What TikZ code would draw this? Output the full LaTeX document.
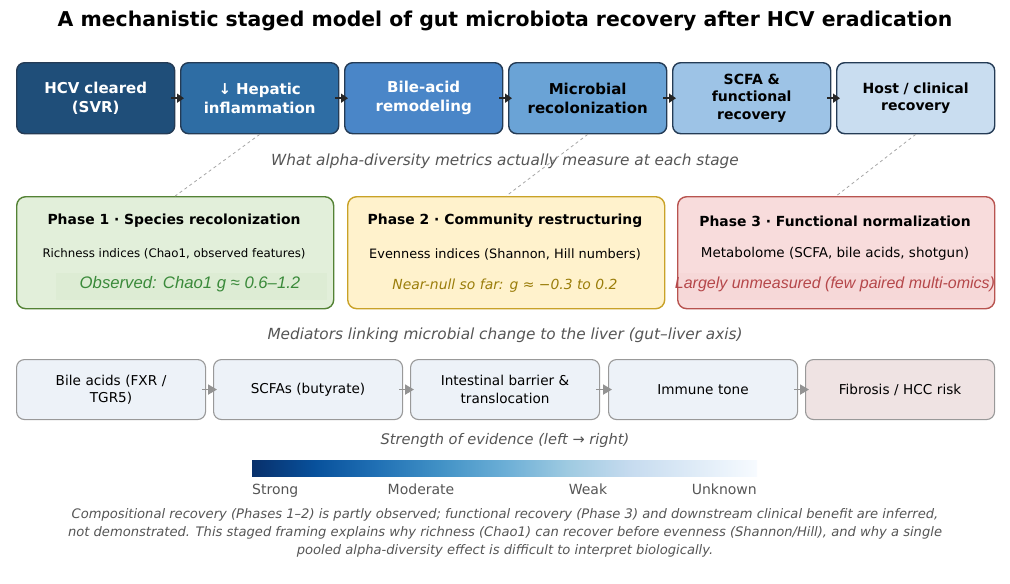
\documentclass[tikz,border=0pt]{standalone}
\usepackage{fontspec}
\setmainfont{DejaVu Sans}
\newfontfamily\arialfont{Liberation Sans}
\usetikzlibrary{arrows.meta}
\definecolor{cA}{HTML}{1F4E79}
\definecolor{cB}{HTML}{2E6DA4}
\definecolor{cC}{HTML}{4A86C8}
\definecolor{cD}{HTML}{6AA3D6}
\definecolor{cE}{HTML}{9DC3E6}
\definecolor{cF}{HTML}{C9DDF0}
\definecolor{edgeDark}{HTML}{243B55}
\definecolor{subgray}{HTML}{555555}
\definecolor{gFill}{HTML}{E2EFDA}
\definecolor{gEdge}{HTML}{548235}
\definecolor{gText}{HTML}{3A8A3A}
\definecolor{gInner}{HTML}{DDECD4}
\definecolor{yFill}{HTML}{FFF2CC}
\definecolor{yEdge}{HTML}{C9A227}
\definecolor{yText}{HTML}{9A7D0A}
\definecolor{rFill}{HTML}{F8DCDC}
\definecolor{rEdge}{HTML}{B85450}
\definecolor{rText}{HTML}{B5474A}
\definecolor{rInner}{HTML}{F6D8D8}
\definecolor{mFill}{HTML}{EDF2F8}
\definecolor{mFillR}{HTML}{EFE3E3}
\definecolor{mEdge}{HTML}{999999}
\definecolor{b0}{HTML}{08306B}
\definecolor{b1}{HTML}{08519C}
\definecolor{b2}{HTML}{2171B5}
\definecolor{b3}{HTML}{4292C6}
\definecolor{b4}{HTML}{6BAED6}
\definecolor{b5}{HTML}{9ECAE1}
\definecolor{b6}{HTML}{C6DBEF}
\definecolor{b7}{HTML}{DEEBF7}
\definecolor{b8}{HTML}{F7FBFF}
\tikzset{
  stagebox/.style={draw=edgeDark, line width=1.4pt, rounded corners=8pt,
    minimum width=158pt, minimum height=71pt, text width=154pt, align=center,
    font=\fontsize{15}{19}\selectfont\bfseries, anchor=north west, inner sep=0pt},
  phasebox/.style={line width=1.4pt, rounded corners=9pt,
    minimum width=317pt, minimum height=112pt, anchor=north west, inner sep=0pt},
  medbox/.style={draw=mEdge, line width=1.1pt, rounded corners=8pt, fill=mFill,
    minimum width=189pt, minimum height=60pt, text width=184pt, align=center,
    font=\fontsize{13.6}{17.5}\selectfont, anchor=north west, inner sep=0pt},
  stagearrow/.style={line width=1.5pt, draw=black!85, -{Triangle[length=7pt,width=9pt]}, shorten <=-4pt, shorten >=-4pt},
  medarrow/.style={line width=1.8pt, draw=gray!85, -{Triangle[length=9pt,width=10pt]}, shorten <=-4pt, shorten >=-4pt},
  linkline/.style={draw=gray!70, dashed, line width=0.8pt},
  subtitle/.style={text=subgray, font=\fontsize{15.3}{18}\selectfont\itshape},
  barlabel/.style={text=subgray, font=\fontsize{14}{16}\selectfont, inner sep=0pt},
}
\begin{document}
\begin{tikzpicture}[x=1pt,y=-1pt]
\useasboundingbox (0,0) rectangle (1010,584);
\node[font=\fontsize{20.4}{24}\selectfont\bfseries] (title) at (505,21) {A mechanistic staged model of gut microbiota recovery after HCV eradication};

% stage boxes
\node[stagebox, fill=cA, text=white] (s1) at (16,62) {HCV cleared\\(SVR)};
\node[stagebox, fill=cB, text=white] (s2) at (180,62) {↓ Hepatic\\inflammation};
\node[stagebox, fill=cC, text=white] (s3) at (344,62) {Bile-acid\\remodeling};
\node[stagebox, fill=cD, text=black] (s4) at (508,62) {Microbial\\recolonization};
\node[stagebox, fill=cE, text=black, font=\fontsize{14}{17.5}\selectfont\bfseries] (s5) at (672,62) {SCFA \&\\functional\\recovery};
\node[stagebox, fill=cF, text=black, font=\fontsize{14}{17.5}\selectfont\bfseries] (s6) at (836,62) {Host / clinical\\recovery};
\draw[stagearrow] (s1.east) -- (s2.west);
\draw[stagearrow] (s2.east) -- (s3.west);
\draw[stagearrow] (s3.east) -- (s4.west);
\draw[stagearrow] (s4.east) -- (s5.west);
\draw[stagearrow] (s5.east) -- (s6.west);

\node[subtitle] (sub1) at (505,161) {What alpha-diversity metrics actually measure at each stage};

% phase boxes
\node[phasebox, draw=gEdge, fill=gFill] (p1) at (16,196) {};
\node[phasebox, draw=yEdge, fill=yFill] (p2) at (347,196) {};
\node[phasebox, draw=rEdge, fill=rFill] (p3) at (677,196) {};

\draw[linkline] (s2.south) -- (p1.north);
\draw[linkline] (s4.south) -- (p2.north);
\draw[linkline] (s6.south) -- (p3.north);

\node[font=\fontsize{13.9}{16}\selectfont\bfseries] (p1t) at (174,221) {Phase 1 · Species recolonization};
\node[font=\fontsize{11.8}{14}\selectfont] (p1m) at (174,254) {Richness indices (Chao1, observed features)};
\node[fill=gInner, minimum width=271pt, minimum height=27pt, inner sep=0pt] (p1bg) at (191,286) {};
\node[text=gText, font=\fontsize{16.7}{19}\selectfont\arialfont\itshape] (p1o) at (190,284) {Observed: Chao1 g ≈ 0.6–1.2};

\node[font=\fontsize{13.9}{16}\selectfont\bfseries] (p2t) at (505,221) {Phase 2 · Community restructuring};
\node[font=\fontsize{12.9}{15}\selectfont] (p2m) at (505,254) {Evenness indices (Shannon, Hill numbers)};
\node[text=yText, font=\fontsize{13.9}{16}\selectfont\itshape] (p2o) at (505,286) {Near-null so far: g ≈ −0.3 to 0.2};

\node[font=\fontsize{13.9}{16}\selectfont\bfseries] (p3t) at (835,221) {Phase 3 · Functional normalization};
\node[font=\fontsize{13.5}{16}\selectfont] (p3m) at (835,254) {Metabolome (SCFA, bile acids, shotgun)};
\node[fill=rInner, minimum width=312pt, minimum height=27pt, inner sep=0pt] (p3bg) at (835,286) {};
\node[text=rText, font=\fontsize{16}{19}\selectfont\arialfont\itshape] (p3o) at (835,284) {Largely unmeasured (few paired multi-omics)};

\node[subtitle] (sub2) at (505,335) {Mediators linking microbial change to the liver (gut–liver axis)};

% mediator boxes
\node[medbox] (m1) at (16,359) {Bile acids (FXR /\\TGR5)};
\node[medbox] (m2) at (213,359) {SCFAs (butyrate)};
\node[medbox] (m3) at (410,359) {Intestinal barrier \&\\translocation};
\node[medbox] (m4) at (608,359) {Immune tone};
\node[medbox, fill=mFillR] (m5) at (805,359) {Fibrosis / HCC risk};
\draw[medarrow] (m1.east) -- (m2.west);
\draw[medarrow] (m2.east) -- (m3.west);
\draw[medarrow] (m3.east) -- (m4.west);
\draw[medarrow] (m4.east) -- (m5.west);

\node[subtitle, font=\fontsize{14.6}{17}\selectfont\itshape] (sub3) at (505,440) {Strength of evidence (left → right)};

% colorbar
\shade[left color=b0, right color=b1] (252,460) rectangle (315.1,476);
\shade[left color=b1, right color=b2] (315,460) rectangle (378.1,476);
\shade[left color=b2, right color=b3] (378,460) rectangle (441.1,476);
\shade[left color=b3, right color=b4] (441,460) rectangle (504.1,476);
\shade[left color=b4, right color=b5] (504,460) rectangle (567.1,476);
\shade[left color=b5, right color=b6] (567,460) rectangle (630.1,476);
\shade[left color=b6, right color=b7] (630,460) rectangle (693.1,476);
\shade[left color=b7, right color=b8] (693,460) rectangle (757,476);
\node[barlabel, anchor=base west] (l1) at (252,494) {Strong};
\node[barlabel, anchor=base] (l2) at (421,494) {Moderate};
\node[barlabel, anchor=base] (l3) at (588,494) {Weak};
\node[barlabel, anchor=base east] (l4) at (757,494) {Unknown};

\node[text=subgray, font=\fontsize{13.1}{18}\selectfont\itshape, align=center] (foot) at (505,533) {Compositional recovery (Phases 1–2) is partly observed; functional recovery (Phase 3) and downstream clinical benefit are inferred,\\not demonstrated. This staged framing explains why richness (Chao1) can recover before evenness (Shannon/Hill), and why a single\\pooled alpha-diversity effect is difficult to interpret biologically.};
\end{tikzpicture}
\end{document}
